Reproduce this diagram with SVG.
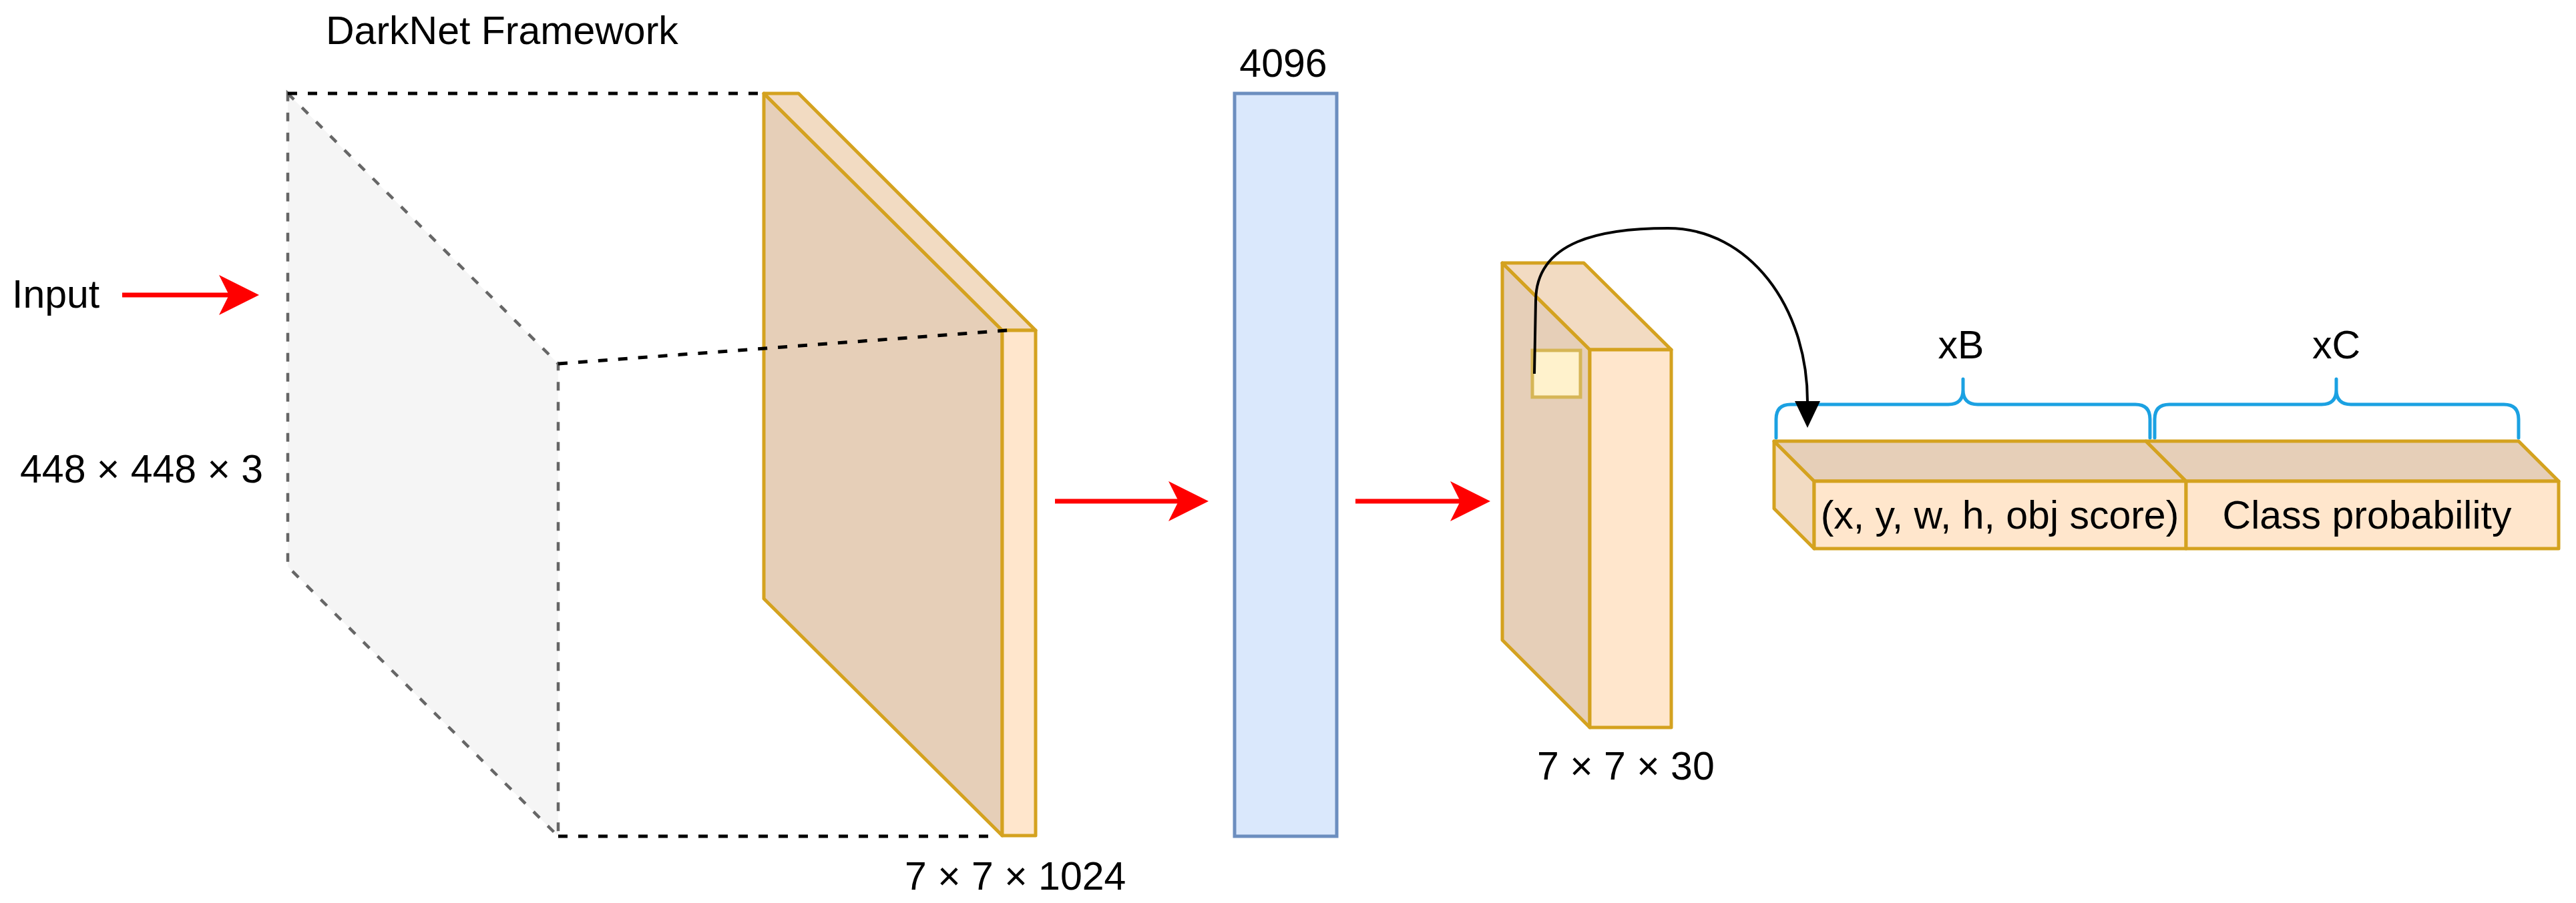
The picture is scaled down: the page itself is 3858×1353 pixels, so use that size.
<svg xmlns="http://www.w3.org/2000/svg" width="3858" height="1353" viewBox="0 0 3858 1353">
<style>
.lbl{font-family:"Liberation Sans",Arial,Helvetica,sans-serif;font-size:59px;fill:#000}
.mid{text-anchor:middle}
.cs{stroke:#d4a21f;stroke-width:5;stroke-linejoin:round}
.f0{fill:#ffe6cc}.f1{fill:#f2dbc2}.f2{fill:#e6cfb8}
.red{stroke:#ff0000;stroke-width:7;fill:none}
.brace{stroke:#1ba1e2;stroke-width:5;fill:none;stroke-linecap:round}
.gdash{fill:#f5f5f5;stroke:#666;stroke-width:4.5;stroke-dasharray:13 17}
.bdash{fill:none;stroke:#000;stroke-width:5;stroke-dasharray:14 16}
</style>
<defs>
<marker id="redArrow" viewBox="0 0 60 60" refX="15" refY="30" markerWidth="60" markerHeight="60" markerUnits="userSpaceOnUse" orient="auto">
<path d="M0,0 L60,30 L0,60 L15,30 Z" fill="#ff0000"/>
</marker>
<marker id="blkArrow" viewBox="0 0 40 38" refX="1" refY="19" markerWidth="40" markerHeight="38" markerUnits="userSpaceOnUse" orient="auto">
<path d="M0,0 L40,19 L0,38 Z" fill="#000"/>
</marker>
</defs>
<rect width="3858" height="1353" fill="#fff"/>

<g id="title"><text class="lbl" x="488" y="66">DarkNet Framework</text></g>
<g id="input-label"><text class="lbl" x="18" y="461">Input</text></g>
<g id="input-size"><text class="lbl" x="30" y="723">448 × 448 × 3</text></g>

<g id="input-plane">
<polygon class="gdash" points="431,140 836,545 836,1253 431,849"/>
</g>

<g id="feature-slab">
<polygon class="cs f2" points="1144,140 1501,495 1501,1252 1144,897"/>
<polygon class="cs f1" points="1144,140 1196,140 1551,495 1501,495"/>
<rect class="cs f0" x="1501" y="495" width="50" height="757"/>
<text class="lbl" x="1355" y="1333">7 × 7 × 1024</text>
</g>

<g id="projection-lines">
<line class="bdash" x1="431" y1="140" x2="1144" y2="140"/>
<line class="bdash" x1="836" y1="545" x2="1522" y2="494"/>
<line class="bdash" x1="836" y1="1253" x2="1482" y2="1253"/>
</g>

<g id="fc-layer">
<rect x="1849" y="140" width="153" height="1113" fill="#dae8fc" stroke="#6c8ebf" stroke-width="5"/>
<text class="lbl mid" x="1922" y="115">4096</text>
</g>

<g id="output-cube">
<polygon class="cs f2" points="2250,394 2381,524 2381,1090 2250,959"/>
<polygon class="cs f1" points="2250,394 2372,394 2503,524 2381,524"/>
<rect class="cs f0" x="2381" y="524" width="122" height="566"/>
<rect x="2295" y="525" width="72" height="70" fill="#fff2cc" stroke="#d6b656" stroke-width="5"/>
<text class="lbl" x="2302" y="1168">7 × 7 × 30</text>
</g>

<g id="vector-bar">
<polygon class="cs f1" points="2657,661 2717,721 2717,822 2657,762"/>
<polygon class="cs f2" points="2657,661 3214,661 3274,721 2717,721"/>
<polygon class="cs f2" points="3214,661 3772,661 3832,721 3274,721"/>
<rect class="cs f0" x="2717" y="721" width="557" height="101"/>
<rect class="cs f0" x="3274" y="721" width="558" height="101"/>
<text class="lbl mid" x="2995" y="792">(x, y, w, h, obj score)</text>
<text class="lbl mid" x="3545" y="792">Class probability</text>
</g>

<g id="braces">
<path class="brace" d="M2660,656 L2660,628 Q2660,606 2682,606 L2918,606 Q2940,606 2940,584 L2940,568 M2940,584 Q2940,606 2962,606 L3198,606 Q3220,606 3220,628 L3220,656"/>
<path class="brace" d="M3227,656 L3227,628 Q3227,606 3249,606 L3477,606 Q3499,606 3499,584 L3499,568 M3499,584 Q3499,606 3521,606 L3750,606 Q3772,606 3772,628 L3772,656"/>
<text class="lbl mid" x="2937" y="537">xB</text>
<text class="lbl mid" x="3499" y="537">xC</text>
</g>

<g id="connectors">
<line class="red" x1="183" y1="442" x2="343" y2="442" marker-end="url(#redArrow)"/>
<line class="red" x1="1580" y1="751" x2="1765" y2="751" marker-end="url(#redArrow)"/>
<line class="red" x1="2030" y1="751" x2="2187" y2="751" marker-end="url(#redArrow)"/>
<path d="M2298,560 L2300,450 C2301,360 2400,342 2498,342 C2620,342 2707,460 2707,602" fill="none" stroke="#000" stroke-width="4" marker-end="url(#blkArrow)"/>
</g>
</svg>
